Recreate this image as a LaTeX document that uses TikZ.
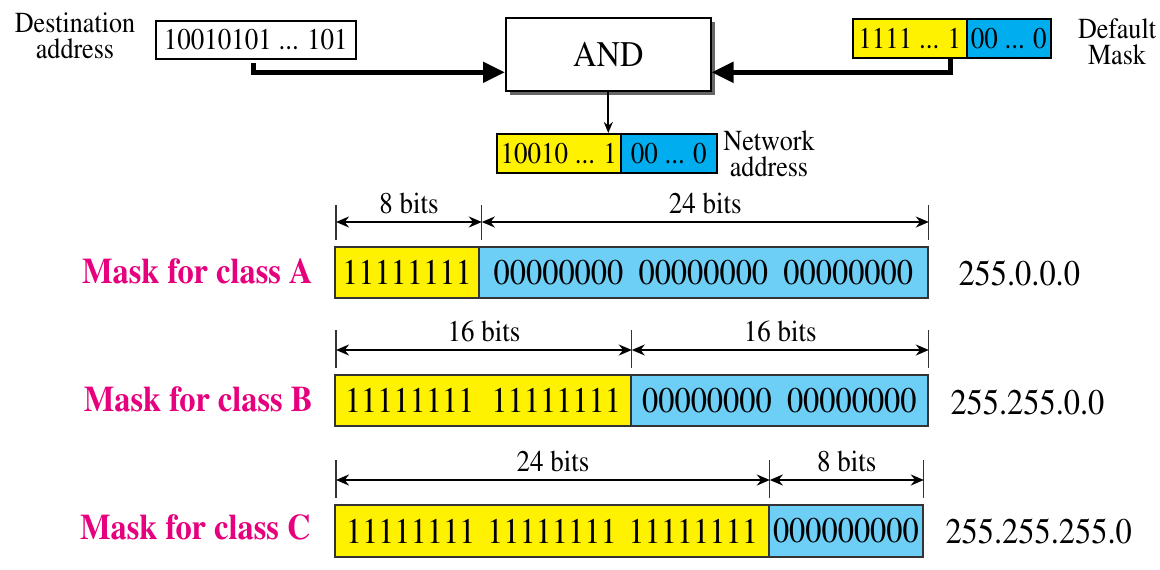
\documentclass[tikz,border=0pt]{standalone}
\usepackage[T1]{fontenc}
\renewcommand{\rmdefault}{ptm}
\usepackage{graphicx}
\usetikzlibrary{arrows.meta,shadows,calc}
\definecolor{ylw}{HTML}{FFF200}
\definecolor{cyanA}{HTML}{00AEEF}
\definecolor{cyanB}{HTML}{6DCFF6}
\definecolor{mag}{HTML}{E6007E}
\newcommand\setfs[1]{\fontsize{#1}{#1}\selectfont}
\newcommand\nx[1]{\scalebox{0.9}[1]{#1}}
\newcommand\gpo{\hspace{13pt}}
\newcommand\gpz{\hspace{17pt}}
\tikzset{
  topcell/.style={draw=black, line width=1.6pt, inner sep=0pt, minimum height=39pt, anchor=north west, font=\setfs{30}},
  rowcell/.style={draw=black!80, line width=1.8pt, inner sep=0pt, minimum height=51pt, anchor=north west, font=\setfs{36}},
  lbl/.style={align=center, font=\fontsize{29}{26}\selectfont},
  rowlbl/.style={anchor=east, text=mag, font=\setfs{36}\bfseries},
  val/.style={anchor=west, font=\setfs{36}},
  bits/.style={anchor=base, font=\setfs{30}},
  bigarrow/.style={line width=5pt, line join=miter, -{Triangle[length=22pt,width=20pt]}},
  dim/.style={line width=1.8pt, {Stealth[length=13pt,width=11pt]}-{Stealth[length=13pt,width=11pt]}},
  tickln/.style={line width=1.3pt, draw=black!80}
}
\begin{document}
\begin{tikzpicture}[x=1pt,y=-1pt]
\useasboundingbox (0,0) rectangle (1160,570);

% ---- top part ----
\node[lbl] (destlbl) at (75,36) {\nx{Destination}\\\nx{address}};
\node[topcell, fill=white, minimum width=200pt, minimum height=38pt] (dest) at (155,20) {\nx{10010101 ... 101}};

\node[draw=black, line width=1.6pt, fill=white, minimum width=205pt, minimum height=73pt,
      anchor=north west, inner sep=0pt, font=\setfs{36},
      drop shadow={shadow xshift=4pt, shadow yshift=-4pt, fill=black!60, opacity=1}] (and) at (505,17) {\nx{AND}};

\node[topcell, fill=ylw, minimum width=114pt] (my) at (852,18) {\nx{1111 ... 1}};
\node[topcell, fill=cyanA, minimum width=84pt] (mb) at (966,18) {\nx{00 ... 0}};
\node[lbl] (masklbl) at (1117,42) {\nx{Default}\\\nx{Mask}};

\node[topcell, fill=ylw, minimum width=124pt] (ny) at (496,133) {\nx{10010 ... 1}};
\node[topcell, fill=cyanA, minimum width=96pt] (nb) at (620,133) {\nx{00 ... 0}};
\node[lbl] (netlbl) at (769,154) {\nx{Network}\\\nx{address}};

\draw[bigarrow] ($(dest.south west)+(98,3)$) |- ($(and.west)+(0,18)$);
\draw[bigarrow] ($(my.south west)+(98,0)$) |- ($(and.east)+(0,18)$);
\draw[line width=2pt, -{Stealth[length=11pt,width=9pt]}] (and.south) -- (and.south |- ny.north);

% ---- class A ----
\node[rowcell, fill=ylw, minimum width=144pt] (ay) at (334,246) {\nx{11111111}};
\node[rowcell, fill=cyanB, minimum width=449pt] (ab) at (478,246) {\nx{00000000\gpz00000000\gpz00000000}};
\node[rowlbl] (alb) at (316,271) {\nx{Mask for class A}};
\node[val] (av) at (955,273) {\nx{255.0.0.0}};
\draw[tickln] ($(ay.north west)+(2,-41)$) -- ++(0,35);
\draw[tickln] ($(ay.north east)+(2,-41)$) -- ++(0,35);
\draw[tickln] ($(ab.north east)+(0,-41)$) -- ++(0,35);
\draw[dim] ($(ay.north west)+(2,-24)$) -- ($(ay.north east)+(2,-24)$) node[bits, midway, yshift=9pt] {\nx{8 bits}};
\draw[dim] ($(ay.north east)+(2,-24)$) -- ($(ab.north east)+(0,-24)$) node[bits, midway, yshift=9pt] {\nx{24 bits}};

% ---- class B ----
\node[rowcell, fill=ylw, minimum width=296pt] (by) at (334,374) {\nx{11111111\gpo\hspace{6pt}11111111}};
\node[rowcell, fill=cyanB, minimum width=297pt] (bb) at (630,374) {\nx{00000000\gpz00000000}};
\node[rowlbl] (blb) at (316,399) {\nx{Mask for class B}};
\node[val] (bv) at (947,402) {\nx{255.255.0.0}};
\draw[tickln] ($(by.north west)+(2,-44)$) -- ++(0,38);
\draw[tickln] ($(by.north east)+(0,-44)$) -- ++(0,38);
\draw[tickln] ($(bb.north east)+(0,-44)$) -- ++(0,38);
\draw[dim] ($(by.north west)+(2,-24)$) -- ($(by.north east)+(0,-24)$) node[bits, midway, yshift=9pt] {\nx{16 bits}};
\draw[dim] ($(by.north east)+(0,-24)$) -- ($(bb.north east)+(0,-24)$) node[bits, midway, yshift=9pt] {\nx{16 bits}};

% ---- class C ----
\node[rowcell, fill=ylw, minimum width=434pt, minimum height=52pt] (cy) at (334,504) {\nx{11111111\gpo11111111\gpo11111111}};
\node[rowcell, fill=cyanB, minimum width=154pt, minimum height=52pt] (cb) at (768,504) {\nx{000000000}};
\node[rowlbl] (clb) at (314,527) {\nx{Mask for class C}};
\node[val] (cv) at (942,531) {\nx{255.255.255.0}};
\draw[tickln] ($(cy.north west)+(2,-44)$) -- ++(0,38);
\draw[tickln] ($(cy.north east)+(0,-44)$) -- ++(0,38);
\draw[tickln] ($(cb.north east)+(0,-44)$) -- ++(0,38);
\draw[dim] ($(cy.north west)+(2,-24)$) -- ($(cy.north east)+(0,-24)$) node[bits, midway, yshift=9pt] {\nx{24 bits}};
\draw[dim] ($(cy.north east)+(0,-24)$) -- ($(cb.north east)+(0,-24)$) node[bits, midway, yshift=9pt] {\nx{8 bits}};
\end{tikzpicture}
\end{document}
